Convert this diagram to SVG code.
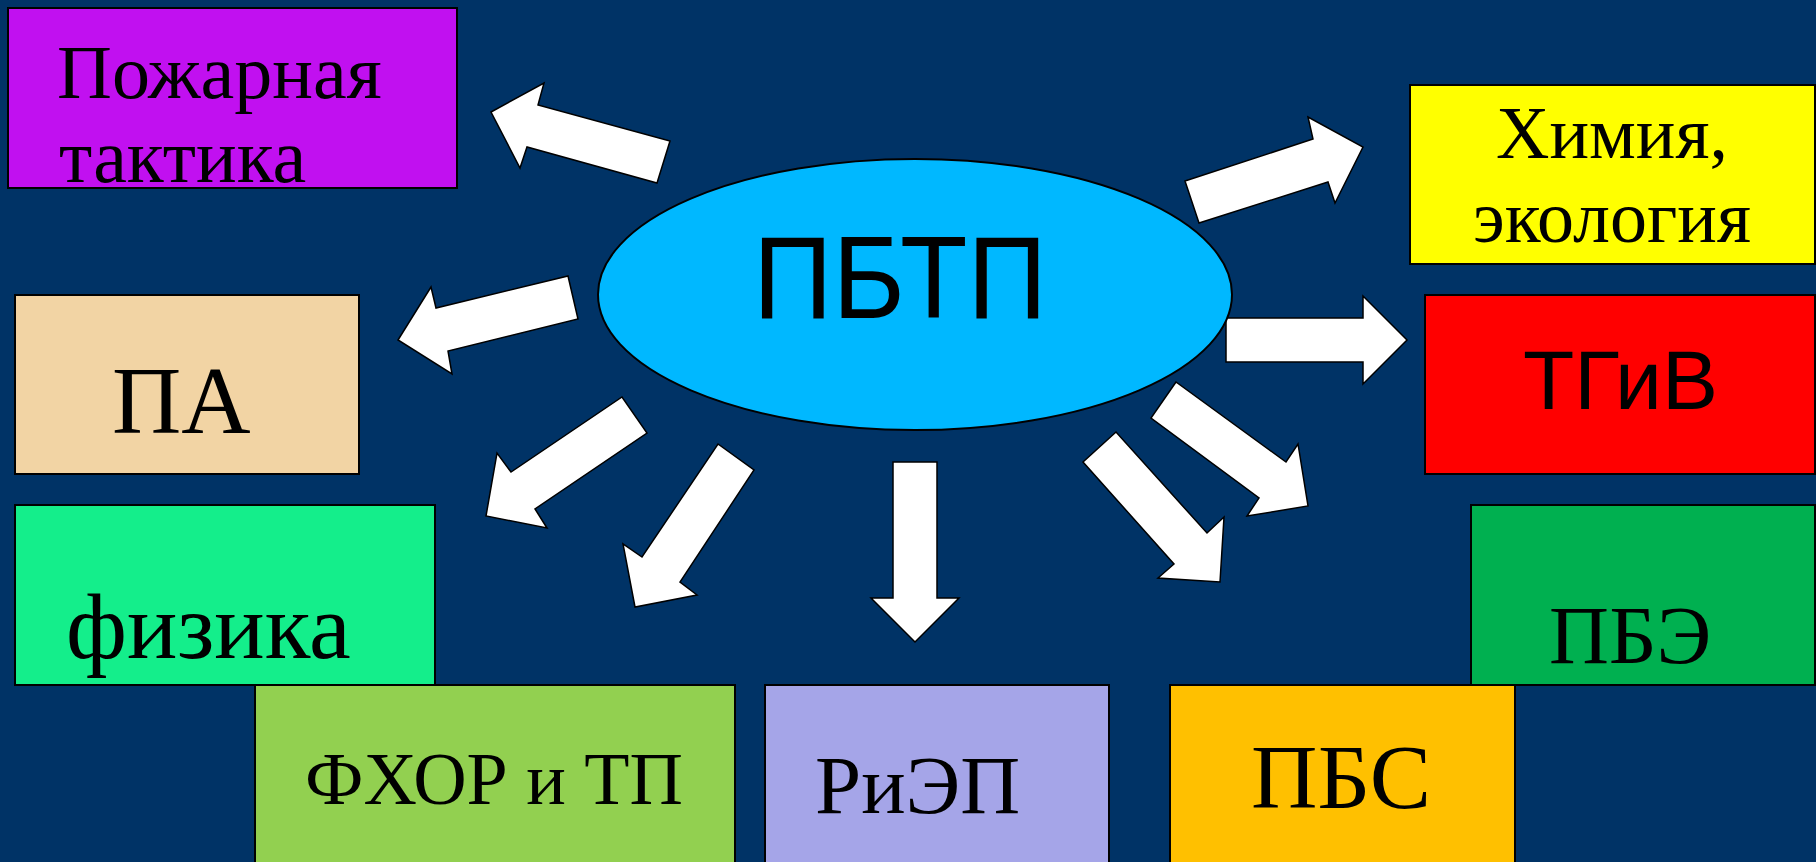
<svg xmlns="http://www.w3.org/2000/svg" width="1816" height="862" viewBox="0 0 1816 862">
<style>
.box{stroke:#000;stroke-width:2}
.arr{fill:#fff;stroke:#000;stroke-width:1.5;stroke-linejoin:miter}
.serif{font-family:"Liberation Serif","Times New Roman",serif;fill:#000}
.sans{font-family:"Liberation Sans",Arial,sans-serif;fill:#000}
</style>
<rect x="0" y="0" width="1816" height="862" fill="#003366"/>
<g id="connectors">
<polygon class="arr" points="491,112 544,83 538,105 670,141 657,183 527,147 520,168"/>
<polygon class="arr" points="398,340 431,287 436,308 568,276 578,319 448,351 452,374"/>
<polygon class="arr" points="486,516 497,453 511,472 622,397 647,433 535,509 547,528"/>
<polygon class="arr" points="635,607 623,544 642,557 718,444 754,470 680,582 697,595"/>
<polygon class="arr" points="893,462 937,462 937,598 959,598 915,642 871,598 893,598"/>
<polygon class="arr" points="1116,432 1083,462 1174,564 1158,578 1220,582 1224,517 1207,533"/>
<polygon class="arr" points="1176,382 1151,418 1259,498 1247,516 1308,506 1298,444 1286,462"/>
<polygon class="arr" points="1226,318 1363,318 1363,296 1407,340 1363,384 1363,362 1226,362"/>
<polygon class="arr" points="1185,181 1313,139 1308,117 1363,147 1335,203 1328,182 1199,223"/>
</g>
<g id="node-center">
<ellipse cx="915" cy="294.5" rx="317" ry="135.5" fill="#00B8FF" stroke="#000" stroke-width="2"/>
<text class="sans" x="753" y="318" font-size="117" textLength="294" lengthAdjust="spacingAndGlyphs">ПБТП</text>
</g>
<g id="node-tactics">
<rect class="box" x="8" y="8" width="449" height="180" fill="#C110F0"/>
<text class="serif" x="57" y="98" font-size="76">Пожарная</text>
<text class="serif" x="59" y="182" font-size="76">тактика</text>
</g>
<g id="node-pa">
<rect class="box" x="15" y="295" width="344" height="179" fill="#F2D4A4"/>
<text class="serif" x="112" y="433" font-size="96">ПА</text>
</g>
<g id="node-physics">
<rect class="box" x="15" y="505" width="420" height="180" fill="#14EE8B"/>
<text class="serif" x="66" y="658" font-size="94">физика</text>
</g>
<g id="node-fhor">
<rect class="box" x="255" y="685" width="480" height="190" fill="#92D050"/>
<text class="serif" x="305" y="804" font-size="74">ФХОР и ТП</text>
</g>
<g id="node-riep">
<rect class="box" x="765" y="685" width="344" height="190" fill="#A5A5E8"/>
<text class="serif" x="815" y="813" font-size="83">РиЭП</text>
</g>
<g id="node-pbs">
<rect class="box" x="1170" y="685" width="345" height="190" fill="#FFC000"/>
<text class="serif" x="1251" y="808" font-size="92">ПБС</text>
</g>
<g id="node-pbe">
<rect class="box" x="1471" y="505" width="344" height="180" fill="#00B050"/>
<text class="serif" x="1549" y="663" font-size="83">ПБЭ</text>
</g>
<g id="node-tgiv">
<rect class="box" x="1425" y="295" width="390" height="179" fill="#FF0000"/>
<text class="sans" x="1523" y="409" font-size="84">ТГиВ</text>
</g>
<g id="node-chem">
<rect class="box" x="1410" y="85" width="405" height="179" fill="#FFFF00"/>
<text class="serif" x="1612" y="158" font-size="74" text-anchor="middle">Химия,</text>
<text class="serif" x="1612" y="242" font-size="74" text-anchor="middle">экология</text>
</g>
</svg>
